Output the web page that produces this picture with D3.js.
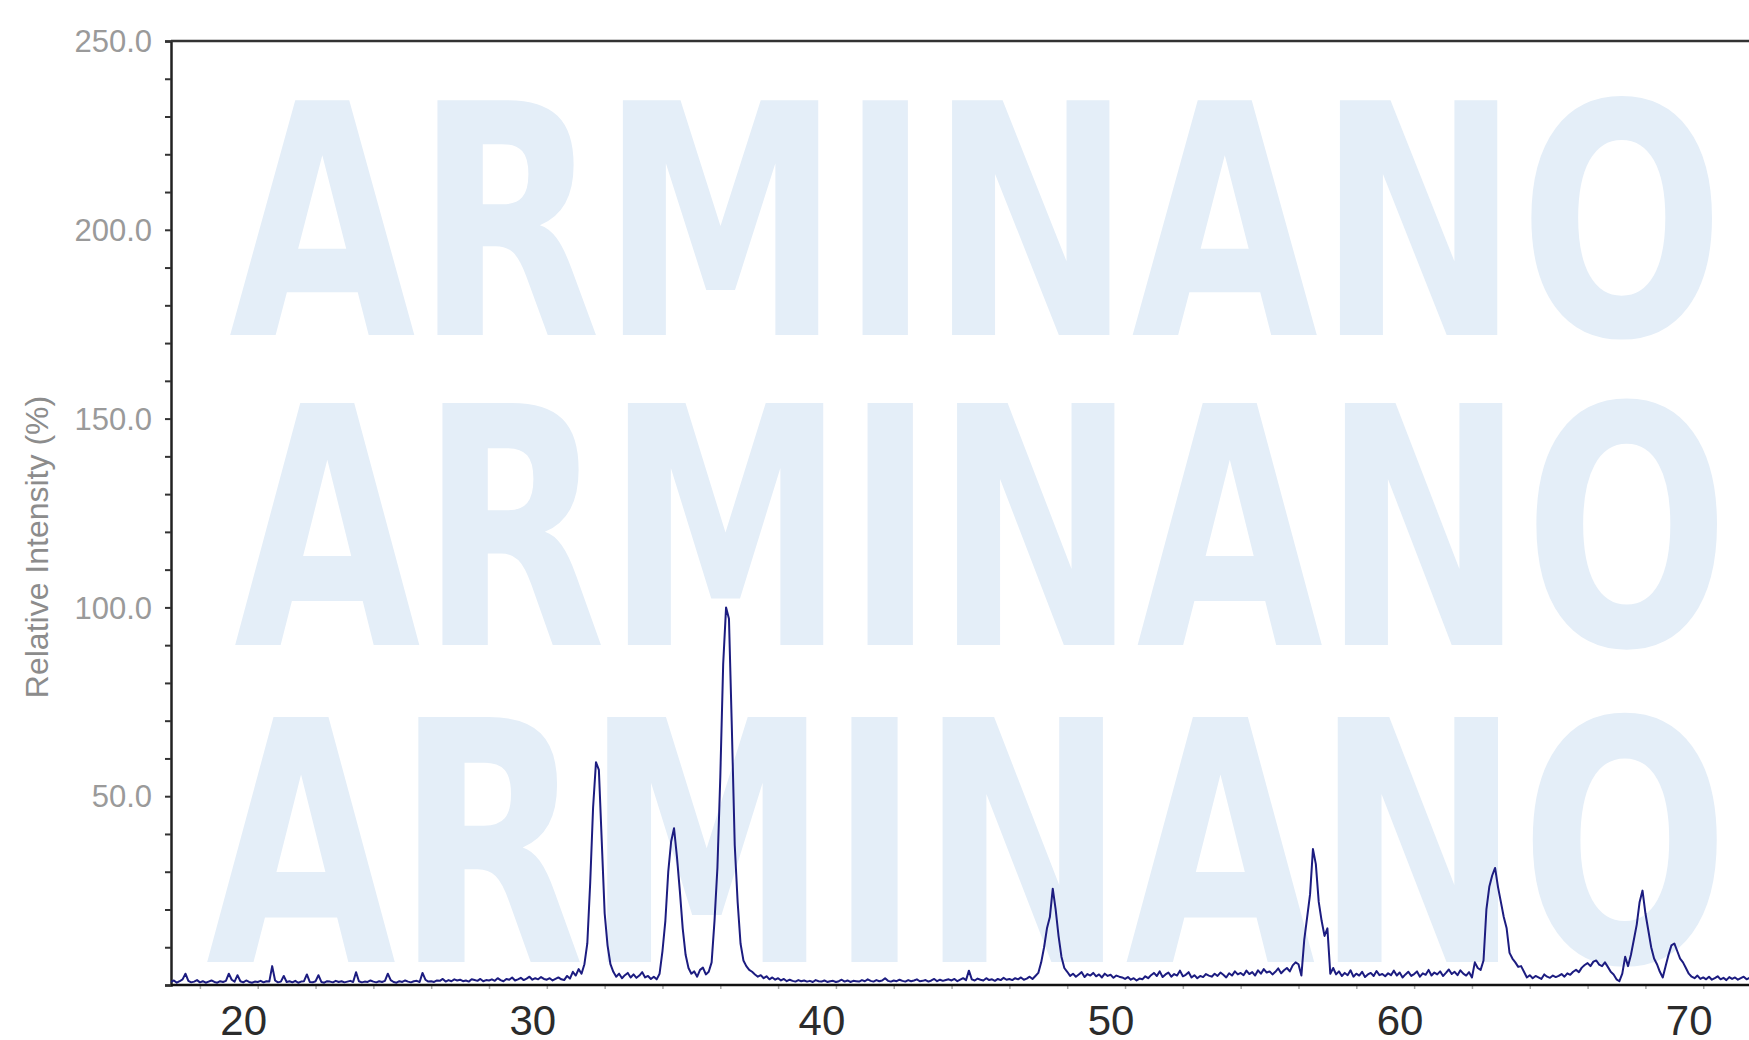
<!DOCTYPE html>
<html>
<head>
<meta charset="utf-8">
<script src="https://cdn.jsdelivr.net/npm/d3@7"></script>
<style>
  body { margin: 0; background: #fff; }
  svg { display: block; }
</style>
</head>
<body>
<div id="chart"></div>
<script>
// XRD scan, 2-theta from 17.0 in 0.1 deg steps, relative intensity (%)
const scanStart = 17.0;
const scanStep = 0.1;
const intensity = [
  0.8,1.2,0.6,1.0,1.5,3.0,1.1,0.7,0.9,1.3,   // 17
  0.7,1.0,0.6,0.9,1.2,0.8,0.6,1.0,0.8,1.1,   // 18
  3.0,1.4,0.9,2.6,1.0,0.7,1.2,0.8,0.6,0.9,   // 19
  0.8,1.1,0.7,1.0,0.9,5.0,1.2,0.7,0.9,2.4,   // 20
  0.8,1.0,0.7,1.1,0.6,0.9,1.0,2.8,0.8,0.7,   // 21
  1.0,2.6,0.8,0.6,1.0,0.9,0.7,1.1,0.8,1.0,   // 22
  0.7,0.9,1.1,0.8,3.4,1.0,0.7,0.9,0.8,1.2,   // 23
  0.9,0.7,1.0,0.8,1.1,3.0,1.3,0.8,0.6,1.0,   // 24
  0.8,1.2,0.9,0.7,1.0,1.1,0.8,3.2,1.4,0.9,   // 25
  1.0,0.8,1.2,1.1,1.6,0.9,1.3,1.0,1.5,1.2,   // 26
  1.4,1.0,1.2,0.9,1.5,1.3,1.1,1.6,1.0,1.3,   // 27
  1.2,1.5,1.1,1.8,1.3,1.0,1.6,1.4,2.0,1.2,   // 28
  1.5,1.9,1.3,1.7,2.2,1.4,1.8,1.5,2.1,1.6,   // 29
  1.4,1.8,1.2,1.6,2.0,1.5,1.3,2.4,1.7,3.5,   // 30
  2.5,4.2,3.0,5.5,11,27,47,59,57,38,         // 31
  19,10.5,5.5,3.5,2.2,3.0,1.8,2.6,3.2,2.0,   // 32
  2.8,1.9,2.5,3.4,2.0,2.4,1.6,2.2,1.5,3.0,   // 33
  9,17,30,38,41.5,34,25,15,8,4.5,            // 34
  3.0,3.6,2.2,4.0,4.6,2.8,3.5,6,17,31,       // 35
  55,85,100,97,68,37,22,11,6.5,5,            // 36
  4,3.5,2.8,2.2,2.6,1.8,2.3,1.5,2.0,1.4,     // 37
  1.8,1.2,1.6,1.0,1.4,1.1,0.9,1.3,1.0,1.2,   // 38
  0.9,1.1,0.8,1.3,1.0,0.9,1.2,0.8,1.0,1.1,   // 39
  0.8,1.0,1.4,0.9,1.2,0.8,1.1,1.0,0.9,1.3,   // 40
  1.0,1.5,1.1,0.9,1.3,1.0,1.2,1.8,1.1,0.9,   // 41
  1.2,1.0,1.4,1.1,0.9,1.3,1.0,1.2,1.5,1.0,   // 42
  1.1,1.3,0.9,1.2,1.6,1.0,1.4,1.1,1.3,1.5,   // 43
  1.2,1.6,1.0,1.4,1.8,1.3,3.8,1.5,1.2,1.7,   // 44
  1.4,1.2,1.8,1.3,1.5,1.1,1.6,1.3,1.9,1.4,   // 45
  1.6,1.3,1.8,1.5,2.0,1.4,1.7,2.2,1.6,2.4,   // 46
  3.2,6,10,15,18,25.5,20,13,7.5,4.5,         // 47
  3.5,2.4,3.0,2.2,2.8,3.4,2.1,2.9,2.5,3.2,   // 48
  2.3,2.8,2.0,3.0,2.4,2.7,1.9,2.5,2.2,2.0,   // 49
  1.6,2.1,1.4,1.8,1.2,1.7,1.5,2.3,1.8,2.6,   // 50
  3.2,2.4,3.6,2.1,2.8,3.3,2.2,2.9,2.5,3.8,   // 51
  2.3,2.7,3.4,2.0,2.6,1.8,2.4,2.1,2.9,2.5,   // 52
  2.2,3.0,2.4,3.3,2.7,2.0,3.1,2.5,3.6,2.8,   // 53
  3.2,2.6,3.8,2.9,3.4,2.5,3.9,3.0,4.2,3.3,   // 54
  3.6,2.8,3.5,4.4,3.1,3.9,4.5,3.6,5.2,6.0,   // 55
  5.5,2.5,12,18,24,36,32,22,17,13,           // 56
  15,3,4.5,2.8,3.6,2.4,3.2,2.6,3.9,2.2,      // 57
  3.0,2.5,3.5,2.1,2.8,3.2,2.4,3.7,2.6,2.9,   // 58
  2.3,3.1,2.6,3.8,2.5,3.3,2.0,2.8,3.5,2.4,   // 59
  2.9,3.6,2.2,3.1,2.7,4.0,2.5,3.3,2.8,3.6,   // 60
  2.4,3.2,4.1,2.9,3.5,2.6,3.9,3.0,2.5,3.4,   // 61
  2.0,6.0,4.5,4.0,6.5,20,26,29,31,26,        // 62
  22,18,15,8.5,7,6,4.8,5,3.5,2.0,            // 63
  2.6,1.8,2.4,2.0,1.6,2.8,2.2,1.9,2.5,2.1,   // 64
  2.4,2.9,2.2,3.1,2.7,3.5,4.0,3.4,4.6,5.3,   // 65
  5.8,5.0,6.2,6.5,5.4,5.0,6.0,4.8,3.5,2.8,   // 66
  1.5,1.0,3.0,7.5,5.0,8,12,16,22,25,         // 67
  19,14.5,10,7,5.5,3.5,2,5,8,10.5,           // 68
  11,9,7,6,4.5,3,2.2,1.8,2.5,1.6,            // 69
  2.0,1.5,2.2,1.4,1.8,2.3,1.5,1.9,1.3,2.1,   // 70
  1.6,2.0,1.4,1.8,2.2,1.5,1.9                // 71
];

const yLabelValues = [50, 100, 150, 200, 250];
const xLabelValues = [20, 30, 40, 50, 60, 70];
const yTitle = "Relative Intensity (%)";
const watermarkRows = ["ARMINANO", "ARMINANO", "ARMINANO"];

const points = intensity.map((v, i) => ({ theta: scanStart + i * scanStep, value: v }));

const W = 1749, H = 1040;
const margin = { top: 41, right: 0, bottom: 55, left: 171 };
const width = W - margin.left - margin.right;
const height = H - margin.top - margin.bottom;

const svg = d3.select("#chart").append("svg")
    .attr("width", W)
    .attr("height", H);

// watermark rows behind the plot
const wm = [
  { x: 229, y: 335, w: 1495, size: 322 },
  { x: 234, y: 645, w: 1495, size: 332 },
  { x: 206, y: 962, w: 1523, size: 336 }
];
svg.append("g").selectAll("text")
    .data(watermarkRows)
    .enter().append("text")
    .attr("x", (d, i) => wm[i].x)
    .attr("y", (d, i) => wm[i].y)
    .attr("textLength", (d, i) => wm[i].w)
    .attr("lengthAdjust", "spacingAndGlyphs")
    .style("font-family", "'Liberation Sans Narrow', 'DejaVu Sans Condensed', sans-serif")
    .style("font-weight", "bold")
    .style("font-size", (d, i) => wm[i].size + "px")
    .style("fill", "#e4eef8")
    .text(d => d);

const g = svg.append("g").attr("transform", "translate(" + margin.left + "," + margin.top + ")");

const x = d3.scaleLinear().domain([17, 17 + width / 28.91]).range([0, width]);
const y = d3.scaleLinear().domain([0, 250]).range([height, 0]);

g.append("defs").append("clipPath").attr("id", "plot-clip")
    .append("rect").attr("x", 0).attr("y", -2).attr("width", width).attr("height", height + 4);

// minor ticks on the bottom axis, every 2 degrees
const xAxis = g.append("g")
    .attr("transform", "translate(0," + height + ")")
    .call(d3.axisBottom(x).tickValues(d3.range(18, 72, 2)).tickSize(4).tickFormat(""));
xAxis.selectAll(".tick line").attr("stroke", "#aaa").attr("stroke-width", 1.5);
xAxis.select(".domain").remove();

// big x labels
g.append("g").selectAll("text")
    .data(xLabelValues)
    .enter().append("text")
    .attr("x", d => x(d) - 14)
    .attr("y", height + 50)
    .attr("text-anchor", "middle")
    .style("font-family", "'Liberation Sans', Arial, sans-serif")
    .style("font-size", "42px")
    .style("fill", "#2b2b2b")
    .text(d => d);

// left axis with minor ticks every 10
const yAxis = g.append("g")
    .call(d3.axisLeft(y).ticks(25).tickSize(6).tickFormat(""));
yAxis.select(".domain").attr("stroke", "#222").attr("stroke-width", 2.5);
yAxis.selectAll(".tick line").attr("stroke", "#333").attr("stroke-width", 2);

g.append("g").selectAll("text")
    .data(yLabelValues)
    .enter().append("text")
    .attr("x", -19)
    .attr("y", d => y(d))
    .attr("dy", "0.36em")
    .attr("text-anchor", "end")
    .style("font-family", "'Liberation Sans', Arial, sans-serif")
    .style("font-size", "31px")
    .style("fill", "#9a9a9a")
    .text(d => d3.format(".1f")(d));

svg.append("text")
    .attr("transform", "translate(37,547) rotate(-90)")
    .attr("text-anchor", "middle")
    .attr("dy", "0.35em")
    .style("font-family", "'Liberation Sans', Arial, sans-serif")
    .style("font-size", "32px")
    .style("fill", "#8c8c8c")
    .text(yTitle);

// top frame line
g.append("line")
    .attr("x1", 0).attr("x2", width)
    .attr("y1", 0).attr("y2", 0)
    .attr("stroke", "#333").attr("stroke-width", 2.5);

// bottom axis line
g.append("line")
    .attr("x1", 0).attr("x2", width)
    .attr("y1", height).attr("y2", height)
    .attr("stroke", "#111").attr("stroke-width", 2.5);

const line = d3.line()
    .x(d => x(d.theta))
    .y(d => y(d.value));

g.append("path")
    .datum(points)
    .attr("clip-path", "url(#plot-clip)")
    .attr("fill", "none")
    .attr("stroke", "#1c1c80")
    .attr("stroke-width", 2)
    .attr("stroke-linejoin", "round")
    .attr("d", line);
</script>
</body>
</html>
